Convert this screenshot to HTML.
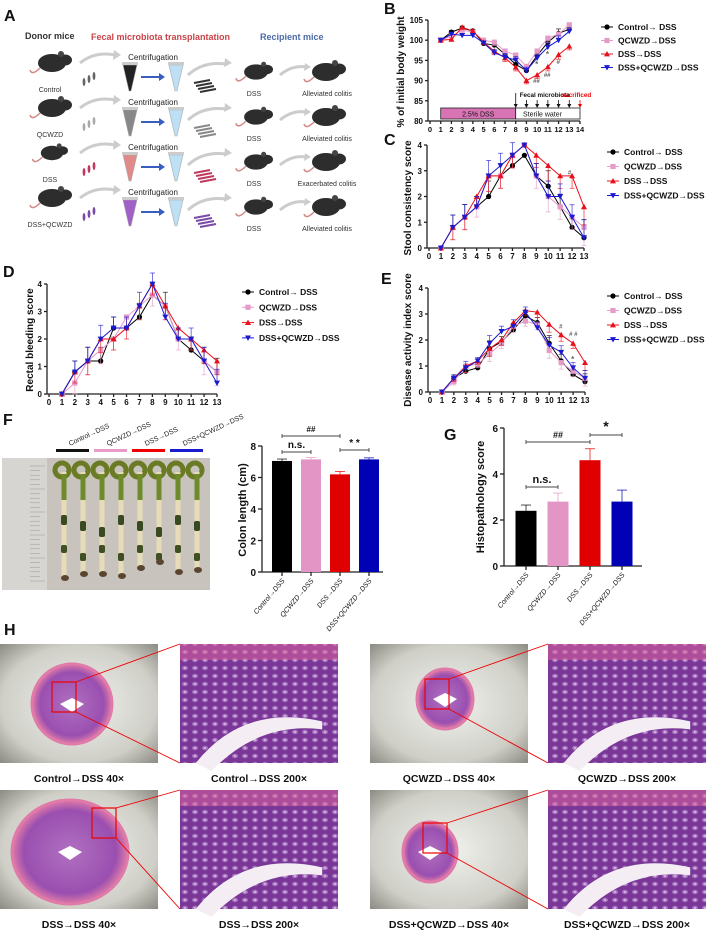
<!DOCTYPE html>
<html><head><meta charset="utf-8"><style>
html,body{margin:0;padding:0;background:#fff;}
svg{display:block;font-family:"Liberation Sans",Arial,sans-serif;}
</style></head><body>
<svg id="fig" width="708" height="930" viewBox="0 0 708 930" xmlns="http://www.w3.org/2000/svg">
<defs>
<radialGradient id="micbg" cx="50%" cy="50%" r="70%"><stop offset="0" stop-color="#f2f2ee"/><stop offset="0.7" stop-color="#cfcfc8"/><stop offset="1" stop-color="#8d8d85"/></radialGradient>
<radialGradient id="tissue" cx="50%" cy="50%" r="50%"><stop offset="0" stop-color="#b070c0"/><stop offset="0.8" stop-color="#9a4fb0"/><stop offset="1" stop-color="#e07aa8"/></radialGradient>
<pattern id="crypt" width="10" height="8" patternUnits="userSpaceOnUse"><rect width="10" height="8" fill="#7a3798"/><ellipse cx="5" cy="4" rx="3" ry="2.2" fill="#a874c0"/><ellipse cx="5" cy="4" rx="1.3" ry="0.9" fill="#d8c0e2"/></pattern>
</defs>
<g id="panelA"></g>
<g id="charts"></g>
<g id="panelF"></g>
<g id="panelH"></g>
</svg>
<script>
// ===== Data =====
const days = [1,2,3,4,5,6,7,8,9,10,11,12,13];
const groupNames = ["Control\u2192 DSS","QCWZD\u2192DSS","DSS\u2192DSS","DSS+QCWZD\u2192DSS"];
// B body weight
const bCtrl = [100,102,103,102.3,99.2,98.8,96.5,94,92.5,96.2,99.5,101.7,102.7];
const bQcwzd = [100,101,102.5,102,100,99.5,97.3,96.3,93.5,97.3,100.5,101.5,103.8];
const bDss = [100,100.2,103.2,102.3,99.5,97.3,95.6,93.3,90,91.4,93.4,96.4,98.5];
const bDssQ = [100,101.5,101.2,101.2,99.3,96.9,95.8,95.1,92.5,95.6,98.3,100,102.2];
const bErr = [0,0.4,0.5,0.4,0.5,0.8,0.9,0.9,0.8,0.9,1.0,1.1,0.9];
// C stool
const cCtrl = [0,0.8,1.2,1.6,2.0,2.8,3.2,3.6,2.8,2.4,1.6,0.8,0.4];
const cQcwzd = [0,0.8,1.2,1.6,2.8,2.8,3.6,4.0,2.8,2.0,1.6,1.2,0.8];
const cDss = [0,0.8,1.2,2.0,2.8,2.8,3.6,4.0,3.6,3.2,2.8,2.8,1.6];
const cDssQ = [0,0.8,1.2,1.6,2.8,3.2,3.6,4.0,2.8,2.0,2.0,1.2,0.4];
const cErr = [0,0.48,0.49,0.4,0.6,0.48,0.49,0.01,0.48,0.6,0.49,0.48,0.7];
// D rectal bleeding
const dCtrl = [0,0.8,1.2,1.2,2.4,2.4,2.8,3.6,3.2,2.0,1.6,1.2,0.8];
const dQcwzd = [0,0.4,1.2,1.6,2.0,2.8,3.2,3.6,3.2,2.0,2.0,1.2,0.8];
const dDss = [0,0.8,1.2,2.0,2.0,2.4,3.2,4.0,3.2,2.4,2.0,1.6,1.2];
const dDssQ = [0,0.8,1.2,2.0,2.4,2.4,3.2,4.0,2.8,2.0,2.0,1.2,0.4];
const dErr = [0,0.4,0.5,0.5,0.4,0.4,0.5,0.4,0.5,0.4,0.4,0.5,0.5];
// E DAI
const eCtrl = [0,0.53,0.8,0.93,1.67,1.93,2.4,2.93,2.67,1.87,1.2,0.67,0.4];
const eQcwzd = [0,0.4,1.0,1.07,1.47,1.87,2.53,2.73,2.6,1.6,1.13,0.8,0.53];
const eDss = [0,0.53,1.0,1.2,1.67,2.0,2.67,3.13,3.07,2.6,2.2,1.87,1.13];
const eDssQ = [0,0.53,0.93,1.2,1.87,2.33,2.53,3.07,2.47,1.8,1.53,0.93,0.53];
const eErr = [0,0.13,0.25,0.13,0.3,0.2,0.25,0.2,0.2,0.3,0.25,0.2,0.3];
// F colon length
const barGroups = ["Control\u2192DSS","QCWZD\u2192DSS","DSS\u2192DSS","DSS+QCWZD\u2192DSS"];
const fVals = [7.05,7.15,6.2,7.15];
const fErr = [0.12,0.12,0.18,0.1];
const fTicks = [0,2,4,6,8];
// G histopathology
const gVals = [2.4,2.8,4.6,2.8];
const gErr = [0.25,0.37,0.5,0.5];
const gTicks = [0,2,4,6];

const COLORS = ["#000000","#e59ac8","#e8101a","#1a1ad0"];
const BARCOL = ["#000000","#e396c6","#e00000","#0000b4"];
const NS="http://www.w3.org/2000/svg";
const root=document.getElementById('charts');
function mk(tag,attrs,parent){const e=document.createElementNS(NS,tag);for(const k in attrs)e.setAttribute(k,attrs[k]);(parent||root).appendChild(e);return e;}
function txt(s,x,y,size,parent,extra){const t=mk('text',Object.assign({x:x,y:y,'font-size':size,'font-weight':'bold',fill:'#111'},extra||{}),parent);t.textContent=s;return t;}

function marker(g,type,x,y,col){
  let m;
  if(type===0) m=mk('circle',{cx:x,cy:y,r:2.6,fill:col},g);
  else if(type===1) m=mk('rect',{x:x-2.6,y:y-2.6,width:5.2,height:5.2,fill:col},g);
  else if(type===2) m=mk('polygon',{points:`${x},${y-3} ${x-3},${y+2.4} ${x+3},${y+2.4}`,fill:col},g);
  else m=mk('polygon',{points:`${x},${y+3} ${x-3},${y-2.4} ${x+3},${y-2.4}`,fill:col},g);
  return m;
}

function lineChart(name,cfg,series,err,legend){
  const g=mk('g',{});
  
  
  const sx=v=>cfg.px0+(v-cfg.xmin)*(cfg.px1-cfg.px0)/(cfg.xmax-cfg.xmin);
  const sy=v=>cfg.py0+(v-cfg.ymin)*(cfg.py1-cfg.py0)/(cfg.ymax-cfg.ymin);
  const ax=mk('g',{stroke:'#222','stroke-width':1.3},g);
  
  
  mk('line',{x1:cfg.px0-2,y1:cfg.py0,x2:cfg.px1,y2:cfg.py0},ax);
  mk('line',{x1:cfg.px0-2,y1:cfg.py0,x2:cfg.px0-2,y2:cfg.py1},ax);
  for(let v=cfg.xmin;v<=cfg.xmax;v++){
    mk('line',{x1:sx(v),y1:cfg.py0,x2:sx(v),y2:cfg.py0+3},ax);
    const t=txt(String(v),sx(v),cfg.py0+11,cfg.tickSize||8,g,{'text-anchor':'middle'});
    
    
  }
  cfg.yticks.forEach(v=>{
    mk('line',{x1:cfg.px0-5,y1:sy(v),x2:cfg.px0-2,y2:sy(v)},ax);
    const t=txt(String(v),cfg.px0-7,sy(v)+3,8,g,{'text-anchor':'end'});
    
    
  });
  const yt=txt(cfg.ytitle,0,0,10,g,{'text-anchor':'middle',transform:`translate(${cfg.titleX},${cfg.titleY}) rotate(-90)`});
  
  
  series.forEach((vals,si)=>{
    const sg=mk('g',{},g);
    
    
    const col=COLORS[si];
    vals.forEach((v,i)=>{
      const x=sx(days[i]);const e=err[i];
      const dir=(si===2||si===1)?-1:1;
      if(e>0){
        mk('line',{x1:x,y1:sy(v),x2:x,y2:sy(v+dir*e),stroke:col,'stroke-width':0.8,opacity:0.75},sg);
        mk('line',{x1:x-2.5,y1:sy(v+dir*e),x2:x+2.5,y2:sy(v+dir*e),stroke:col,'stroke-width':0.8,opacity:0.75},sg);
      }
    });
    const pts=vals.map((v,i)=>sx(days[i])+','+sy(v)).join(' ');
    const pl=mk('polyline',{points:pts,fill:'none',stroke:col,'stroke-width':1},sg);
    
    
    vals.forEach((v,i)=>{
      const m=marker(sg,si,sx(days[i]),sy(v),col);
      
      
    });
  });
  const lg=mk('g',{},g);
  
  
  groupNames.forEach((n,i)=>{
    const y=legend.y+i*legend.dy;
    const e=mk('g',{},lg);
    
    
    mk('line',{x1:legend.x-6,y1:y,x2:legend.x+6,y2:y,stroke:COLORS[i],'stroke-width':1},e);
    marker(e,i,legend.x,y,COLORS[i]);
    txt(n,legend.x+11,y+3,8.5,e);
  });
  return {g,sx,sy};
}

function letter(s,x,y){const t=txt(s,x,y,16,root);}
letter('A',4,21);letter('B',384,14);letter('C',384,145);letter('D',3,277);letter('E',381,284);letter('F',3,425);letter('G',444,440);letter('H',4,635);

// B
const B=lineChart('body-weight-chart',{px0:430,px1:580,xmin:0,xmax:14,py0:121,py1:20,ymin:80,ymax:105,yticks:[80,85,90,95,100,105],ytitle:'% of initial body weight',titleX:404,titleY:72,tickSize:7.5},[bCtrl,bQcwzd,bDss,bDssQ],bErr,{x:607,y:27,dy:13.5});
(function(){
  const g=B.g;
  const r1=mk('rect',{x:B.sx(1),y:108,width:B.sx(8)-B.sx(1),height:11,fill:'#d873b4',stroke:'#222','stroke-width':0.8},g);
  
  txt('2.5% DSS',(B.sx(1)+B.sx(8))/2,116.5,7,g,{'text-anchor':'middle','font-weight':'normal'});
  const r2=mk('rect',{x:B.sx(8),y:108,width:B.sx(14)-B.sx(8),height:11,fill:'#fff',stroke:'#222','stroke-width':0.8},g);
  
  txt('Sterile water',(B.sx(8)+B.sx(13))/2,116.5,7,g,{'text-anchor':'middle','font-weight':'normal'});
  [8,9,10,11,12,13,14].forEach(d=>{
    const c=d===14?'#e00':'#111';
    mk('line',{x1:B.sx(d),y1:d===8?93:100,x2:B.sx(d),y2:107,stroke:c,'stroke-width':0.8},g);
    mk('polygon',{points:`${B.sx(d)-2},104 ${B.sx(d)+2},104 ${B.sx(d)},108`,fill:c},g);
  });
  txt('Fecal microbiota',B.sx(8)+4,97,6.3,g);
  txt('sacrificed',B.sx(12.3),97,6.3,g,{fill:'#e00'});
  txt('*',B.sx(10)-2,67,8,g,{fill:'#666'});txt('*',B.sx(11)-2,57,8,g,{fill:'#666'});
  txt('##',B.sx(10)-4,83,6,g,{fill:'#666'});txt('##',B.sx(11)-4,77,6,g,{fill:'#666'});txt('#',B.sx(12)-2,64,6,g,{fill:'#666'});
})();
// C
const C=lineChart('stool-consistency-chart',{px0:429,px1:584,xmin:0,xmax:13,py0:248,py1:145,ymin:0,ymax:4,yticks:[0,1,2,3,4],ytitle:'Stool consistency score',titleX:411,titleY:198},[cCtrl,cQcwzd,cDss,cDssQ],cErr,{x:613,y:152,dy:14.5});
txt('#',C.sx(11.65),C.sy(2.85),6,C.g,{fill:'#666'});
// D
const D=lineChart('rectal-bleeding-chart',{px0:49,px1:217,xmin:0,xmax:13,py0:394,py1:284,ymin:0,ymax:4,yticks:[0,1,2,3,4],ytitle:'Rectal bleeding score',titleX:33,titleY:340},[dCtrl,dQcwzd,dDss,dDssQ],dErr,{x:248,y:292,dy:15.3});
// E
const E=lineChart('disease-activity-chart',{px0:430,px1:585,xmin:0,xmax:13,py0:392,py1:288,ymin:0,ymax:4,yticks:[0,1,2,3,4],ytitle:'Disease activity index score',titleX:411,titleY:340},[eCtrl,eQcwzd,eDss,eDssQ],eErr,{x:613,y:296,dy:14.5});
txt('#',E.sx(11)-2,E.sy(2.45),6,E.g,{fill:'#666'});txt('# #',E.sx(12)-4,E.sy(2.15),6,E.g,{fill:'#666'});txt('*',E.sx(12)-2,E.sy(1.15),8,E.g,{fill:'#666'});

// Bar charts
function barChart(name,cfg,vals,err,ticks){
  const g=mk('g',{});
  
  
  const sy=v=>cfg.py0+(v-ticks[0])*(cfg.py1-cfg.py0)/(ticks[ticks.length-1]-ticks[0]);
  const sx=i=>cfg.px0+cfg.first+i*cfg.step;
  mk('line',{x1:cfg.px0,y1:cfg.py0,x2:cfg.px1,y2:cfg.py0,stroke:'#222','stroke-width':1.3},g);
  mk('line',{x1:cfg.px0,y1:cfg.py0,x2:cfg.px0,y2:cfg.py1,stroke:'#222','stroke-width':1.3},g);
  ticks.forEach(v=>{
    mk('line',{x1:cfg.px0-4,y1:sy(v),x2:cfg.px0,y2:sy(v),stroke:'#222','stroke-width':1.3},g);
    const t=txt(String(v),cfg.px0-6,sy(v)+4,10,g,{'text-anchor':'end'});
    
  });
  const yt=txt(cfg.ytitle,0,0,11,g,{'text-anchor':'middle',transform:`translate(${cfg.titleX},${cfg.titleY}) rotate(-90)`});
  
  vals.forEach((v,i)=>{
    const x=sx(i);
    mk('line',{x1:x,y1:sy(v),x2:x,y2:sy(v+err[i]),stroke:BARCOL[i],'stroke-width':1,opacity:0.7},g);
    mk('line',{x1:x-5,y1:sy(v+err[i]),x2:x+5,y2:sy(v+err[i]),stroke:BARCOL[i],'stroke-width':1,opacity:0.7},g);
    const b=mk('rect',{x:x-cfg.bw/2,y:sy(v),width:cfg.bw,height:cfg.py0-sy(v),fill:BARCOL[i]},g);
    
    
    mk('line',{x1:x,y1:cfg.py0,x2:x,y2:cfg.py0+4,stroke:'#222','stroke-width':1.3},g);
    const t=txt(barGroups[i],0,0,7,g,{'text-anchor':'end','font-style':'italic','font-weight':'normal',transform:`translate(${x+3},${cfg.py0+9}) rotate(-50)`});
    
  });
  return {g,sx,sy};
}
const F=barChart('colon-length-chart',{px0:262,px1:383,py0:572,py1:446,first:20,step:29,bw:20,ytitle:'Colon length (cm)',titleX:246,titleY:510},fVals,fErr,fTicks);
function brack(P,i,j,y,label,size){
  mk('line',{x1:P.sx(i),y1:y,x2:P.sx(j),y2:y,stroke:'#444','stroke-width':0.9},P.g);
  mk('line',{x1:P.sx(i),y1:y-2,x2:P.sx(i),y2:y+2,stroke:'#444','stroke-width':0.9},P.g);
  mk('line',{x1:P.sx(j),y1:y-2,x2:P.sx(j),y2:y+2,stroke:'#444','stroke-width':0.9},P.g);
  const t=txt(label,(P.sx(i)+P.sx(j))/2,y-4,size,P.g,{'text-anchor':'middle'});
  
}
brack(F,0,2,436,'##',8);brack(F,0,1,452,'n.s.',10);brack(F,2,3,450,'* *',10);
const G=barChart('histopathology-chart',{px0:504,px1:642,py0:566,py1:428,first:22,step:32,bw:21,ytitle:'Histopathology score',titleX:484,titleY:497},gVals,gErr,gTicks);
brack(G,0,2,442,'##',9);brack(G,2,3,435,'*',14);brack(G,0,1,487,'n.s.',11);

// ===== Panel A schematic =====
(function(){
  const A=document.getElementById('panelA');
  function t(s,x,y,sz,col,anchor,w){const e=mk('text',{x:x,y:y,'font-size':sz,fill:col,'text-anchor':anchor||'middle','font-weight':w||'normal'},A);e.textContent=s;return e;}
  t('Donor mice',25,39,9,'#333','start','bold');
  t('Fecal microbiota transplantation',91,40,9,'#c8444a','start','bold');
  t('Recipient mice',260,40,9,'#4a6aa8','start','bold');
  function mouse(x,y,s){
    const g=mk('g',{},A);
    
    mk('path',{d:`M${x-12*s},${y+5*s} q-8,8 -10,2`,stroke:'#d28a86','stroke-width':1.5,fill:'none'},g);
    mk('ellipse',{cx:x,cy:y,rx:14*s,ry:9*s,fill:'#2d2d2d'},g);
    mk('ellipse',{cx:x+13*s,cy:y-3*s,rx:7*s,ry:5.5*s,fill:'#2d2d2d'},g);
    mk('circle',{cx:x+9*s,cy:y-9*s,r:3*s,fill:'#444'},g);
  }
  const rows=[{y:63,l:'Control',c:'#666',tube:'#222',res:'Alleviated colitis'},{y:108,l:'QCWZD',c:'#aaa',tube:'#888',res:'Alleviated colitis'},{y:153,l:'DSS',c:'#c0395e',tube:'#e08a8a',res:'Exacerbated colitis'},{y:198,l:'DSS+QCWZD',c:'#7a4aa8',tube:'#a060c8',res:'Alleviated colitis'}];
  rows.forEach((r,i)=>{
    const s=i===2?0.8:1;
    mouse(52,r.y,s);
    t(r.l,50,r.y+29,7,'#333');
    mk('path',{d:`M80,${r.y} q15,-12 35,-8`,stroke:'#ccc','stroke-width':3,fill:'none'},A);
    mk('polygon',{points:`114,${r.y-13} 121,${r.y-8} 113,${r.y-3}`,fill:'#ccc'},A);
    for(let k=0;k<3;k++)mk('ellipse',{cx:84+k*5,cy:r.y+19-k*3,rx:1.4,ry:4,fill:r.c},A);
    t('Centrifugation',153,r.y-3,8,'#222');
    mk('polygon',{points:`123,${r.y+2} 137,${r.y+2} 131,${r.y+28} 129,${r.y+28}`,fill:r.tube,stroke:'#aaa','stroke-width':0.6},A);
    mk('rect',{x:122,y:r.y-1,width:16,height:3,fill:'#ccc'},A);
    mk('polygon',{points:`169,${r.y+2} 183,${r.y+2} 177,${r.y+28} 175,${r.y+28}`,fill:'#bde0f5',stroke:'#aaa','stroke-width':0.6},A);
    mk('rect',{x:168,y:r.y-1,width:16,height:3,fill:'#ccc'},A);
    mk('line',{x1:141,y1:r.y+14,x2:160,y2:r.y+14,stroke:'#3a5ec0','stroke-width':2},A);
    mk('polygon',{points:`159,${r.y+10} 165,${r.y+14} 159,${r.y+18}`,fill:'#3a5ec0'},A);
    mk('path',{d:`M188,${r.y+12} q15,-14 38,-11`,stroke:'#ccc','stroke-width':3,fill:'none'},A);
    mk('polygon',{points:`225,${r.y-5} 232,${r.y} 224,${r.y+4}`,fill:'#ccc'},A);
    for(let k=0;k<4;k++)mk('line',{x1:194+k*2,y1:r.y+20+k*3,x2:210+k*2,y2:r.y+17+k*3,stroke:r.c==='#aaa'?'#888':(r.c==='#666'?'#333':r.c),'stroke-width':2},A);
    mouse(256,r.y+9,0.85);
    t('DSS',254,r.y+33,7,'#333');
    mk('path',{d:`M280,${r.y+12} q12,-10 26,-8`,stroke:'#ccc','stroke-width':3,fill:'none'},A);
    mk('polygon',{points:`305,${r.y} 311,${r.y+4} 304,${r.y+8}`,fill:'#ccc'},A);
    mouse(326,r.y+9,1);
    t(r.res,327,r.y+33,7,'#333');
  });
})();

// ===== Panel F photo =====
(function(){
  const P=document.getElementById('panelF');
  const cols=['#111','#e89ac8','#e00','#1a1ad0'];
  const labels=['Control\u2192DSS','QCWZD\u2192DSS','DSS\u2192DSS','DSS+QCWZD\u2192DSS'];
  for(let i=0;i<4;i++){
    const x=56+i*38;
    mk('rect',{x:x,y:449,width:33,height:3,fill:cols[i]},P);
    const t=mk('text',{x:0,y:0,'font-size':7,fill:'#222',transform:`translate(${x+14},${446}) rotate(-25)`},P);t.textContent=labels[i];
    
  }
  const ph=mk('rect',{x:2,y:458,width:208,height:132,fill:'#c8c4bd'},P);
  
  mk('rect',{x:2,y:458,width:45,height:132,fill:'#d6d5d2'},P);
  for(let k=0;k<26;k++)mk('line',{x1:30,y1:466+k*4.6,x2:k%5===0?45:40,y2:466+k*4.6,stroke:'#999','stroke-width':0.5},P);
  const lens=[108,104,104,106,98,92,102,100];
  for(let i=0;i<8;i++){
    const x=62+i*19;
    mk('circle',{cx:x,cy:470,r:7,fill:'none',stroke:'#6b7a25','stroke-width':5},P);
    mk('line',{x1:x+2,y1:472,x2:x+2,y2:470+lens[i],stroke:'#e6dcb8','stroke-width':5},P);
    mk('line',{x1:x+2,y1:474,x2:x+2,y2:500,stroke:'#6e8a2a','stroke-width':5},P);
    mk('rect',{x:x-1,y:515+(i%3)*6,width:6,height:10,fill:'#3a4a20',rx:2},P);
    mk('rect',{x:x-1,y:545+(i%2)*8,width:6,height:8,fill:'#3f4f22',rx:2},P);
    mk('ellipse',{cx:x+3,cy:470+lens[i],rx:4,ry:3,fill:'#5a4530'},P);
  }
})();

// ===== Panel H histology =====
(function(){
  const H=document.getElementById('panelH');
  const cols=[[0,180],[370,548]];
  const rowsY=[644,790];
  const caps=[['Control\u2192DSS 40\u00d7','Control\u2192DSS 200\u00d7','QCWZD\u2192DSS 40\u00d7','QCWZD\u2192DSS 200\u00d7'],['DSS\u2192DSS 40\u00d7','DSS\u2192DSS 200\u00d7','DSS+QCWZD\u2192DSS 40\u00d7','DSS+QCWZD\u2192DSS 200\u00d7']];
  const boxes=[[{cx:72,cy:60,rx:40,ry:40,bx:52,by:38},{cx:75,cy:55,rx:28,ry:30,bx:55,by:35}],[{cx:70,cy:62,rx:58,ry:52,bx:92,by:18},{cx:60,cy:62,rx:27,ry:30,bx:53,by:33}]];
  rowsY.forEach((y,r)=>{
    cols.forEach((c,ci)=>{
      const w=158,h=119;
      const g1=mk('g',{},H);
      
      mk('rect',{x:c[0],y:y,width:w,height:h,fill:'url(#micbg)'},g1);
      const b=boxes[r][ci];
      mk('ellipse',{cx:c[0]+b.cx,cy:y+b.cy,rx:b.rx,ry:b.ry,fill:'url(#tissue)',stroke:'#e07aa8','stroke-width':3},g1);
      mk('path',{d:`M${c[0]+b.cx-12},${y+b.cy} l12,-6 l12,6 l-12,8 z`,fill:'#fff'},g1);
      mk('rect',{x:c[0]+b.bx,y:y+b.by,width:24,height:30,fill:'none',stroke:'#e00','stroke-width':1.2},g1);
      mk('line',{x1:c[0]+b.bx+24,y1:y+b.by,x2:c[1],y2:y,stroke:'#e00','stroke-width':0.9},H);
      mk('line',{x1:c[0]+b.bx+24,y1:y+b.by+30,x2:c[1],y2:y+h,stroke:'#e00','stroke-width':0.9},H);
      const g2=mk('g',{},H);
      
      mk('rect',{x:c[1],y:y,width:w,height:h,fill:'url(#crypt)'},g2);
      mk('path',{d:`M${c[1]+w*0.1},${y+h} q${w*0.3},-${h*0.5} ${w*0.8},-${h*0.35} l0,8 q-${w*0.4},-8 -${w*0.7},${h*0.35} z`,fill:'#f4eef4'},g2);
      mk('rect',{x:c[1],y:y,width:w,height:16,fill:'#d9609a',opacity:0.55},g2);
      const t1=mk('text',{x:c[0]+w/2,y:y+h+19,'font-size':10.5,'font-weight':'bold','text-anchor':'middle',fill:'#111'},H);t1.textContent=caps[r][ci*2];
      
      const t2=mk('text',{x:c[1]+w/2,y:y+h+19,'font-size':10.5,'font-weight':'bold','text-anchor':'middle',fill:'#111'},H);t2.textContent=caps[r][ci*2+1];
      
    });
  });
})();
</script>
</body></html>
